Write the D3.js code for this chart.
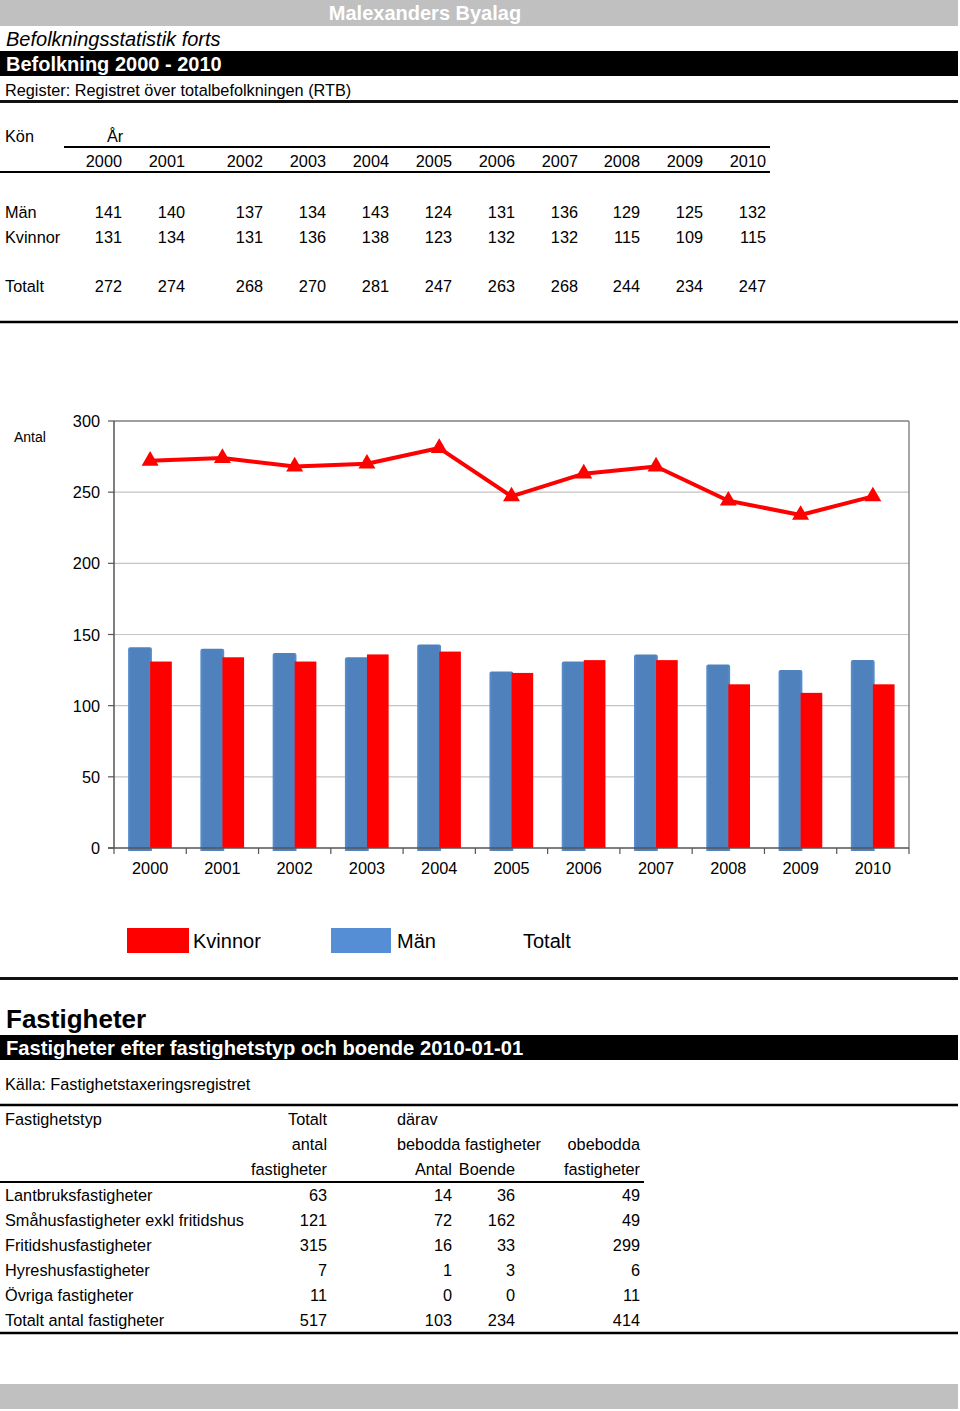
<!DOCTYPE html>
<html>
<head>
<meta charset="utf-8">
<script src="https://cdn.jsdelivr.net/npm/d3@7"></script>
<style>
  html, body { margin: 0; padding: 0; background: #fff; }
  svg text { font-family: "Liberation Sans", Arial, Helvetica, sans-serif; }
</style>
</head>
<body>
<svg id="page" width="960" height="1411"></svg>
<script>
// ---------- DATA ----------
const years = [2000, 2001, 2002, 2003, 2004, 2005, 2006, 2007, 2008, 2009, 2010];
const man = [141, 140, 137, 134, 143, 124, 131, 136, 129, 125, 132];
const kvinnor = [131, 134, 131, 136, 138, 123, 132, 132, 115, 109, 115];
const totalt = [272, 274, 268, 270, 281, 247, 263, 268, 244, 234, 247];
const yTicks = [0, 50, 100, 150, 200, 250, 300];
const legendLabels = ["Kvinnor", "Män", "Totalt"];

const fastTypes = ["Lantbruksfastigheter", "Småhusfastigheter exkl fritidshus", "Fritidshusfastigheter",
                   "Hyreshusfastigheter", "Övriga fastigheter", "Totalt antal fastigheter"];
const fastTotal = [63, 121, 315, 7, 11, 517];
const fastBeboddaAntal = [14, 72, 16, 1, 0, 103];
const fastBoende = [36, 162, 33, 3, 0, 234];
const fastObebodda = [49, 49, 299, 6, 11, 414];

// ---------- LAYOUT ----------
const svg = d3.select("#page");
const W = 958;
const FS = 16.3;

function txt(x, y, s, opts = {}) {
  const t = svg.append("text").attr("x", x).attr("y", y).text(s)
    .attr("font-size", opts.size || FS)
    .attr("fill", opts.fill || "#000");
  if (opts.weight) t.attr("font-weight", opts.weight);
  if (opts.style) t.attr("font-style", opts.style);
  if (opts.anchor) t.attr("text-anchor", opts.anchor);
  return t;
}
function hline(x1, x2, y, w, c) {
  svg.append("line").attr("x1", x1).attr("x2", x2).attr("y1", y).attr("y2", y)
    .attr("stroke", c || "#000").attr("stroke-width", w || 2);
}

// Header
svg.append("rect").attr("x", 0).attr("y", 0).attr("width", W).attr("height", 26).attr("fill", "#c0c0c0");
txt(425, 20, "Malexanders Byalag", {size: 20, weight: "bold", fill: "#fff", anchor: "middle"});
txt(6, 46, "Befolkningsstatistik forts", {size: 20, style: "italic"});
svg.append("rect").attr("x", 0).attr("y", 51).attr("width", W).attr("height", 25).attr("fill", "#000");
txt(6, 71, "Befolkning 2000 - 2010", {size: 20, weight: "bold", fill: "#fff"});
txt(5, 96, "Register: Registret över totalbefolkningen (RTB)", {size: FS});
hline(0, W, 101.5, 3, "#111");

// Table 1
const colRight = [122, 185, 263, 326, 389, 452, 515, 578, 640, 703, 766];
txt(5, 142, "Kön");
txt(107, 142, "År");
hline(64, 770, 147, 2);
years.forEach((y, i) => txt(colRight[i], 167, y, {anchor: "end"}));
hline(0, 770, 172, 2);
txt(5, 218, "Män");
txt(5, 243, "Kvinnor");
txt(5, 292, "Totalt");
man.forEach((v, i) => txt(colRight[i], 218, v, {anchor: "end"}));
kvinnor.forEach((v, i) => txt(colRight[i], 243, v, {anchor: "end"}));
totalt.forEach((v, i) => txt(colRight[i], 292, v, {anchor: "end"}));
hline(0, W, 322, 2.5);

// ---------- CHART ----------
const pl = 114, pr = 909, pt = 421, pb = 848;
const x = d3.scaleBand().domain(years).range([pl, pr]).padding(0);
const y = d3.scaleLinear().domain([0, 300]).range([pb, pt]);
const bw = x.bandwidth();
const g = svg.append("g");

// gridlines
g.selectAll("line.grid").data(yTicks.filter(d => d > 0)).join("line")
  .attr("x1", pl).attr("x2", pr).attr("y1", d => y(d)).attr("y2", d => y(d))
  .attr("stroke", "#c4c4c4").attr("stroke-width", 1.2);
// border
g.append("line").attr("x1", pr).attr("x2", pr).attr("y1", pt).attr("y2", pb)
  .attr("stroke", "#888").attr("stroke-width", 1.5);
g.append("line").attr("x1", pl).attr("x2", pr).attr("y1", pt).attr("y2", pt)
  .attr("stroke", "#888").attr("stroke-width", 1.5);

// gradient for blue bars
const defs = svg.append("defs");
const grad = defs.append("linearGradient").attr("id", "blueGrad").attr("x1", "0").attr("x2", "1").attr("y1", "0").attr("y2", "0");
grad.append("stop").attr("offset", "0%").attr("stop-color", "#5a8fd0");
grad.append("stop").attr("offset", "12%").attr("stop-color", "#4f81bd");
grad.append("stop").attr("offset", "88%").attr("stop-color", "#4f81bd");
grad.append("stop").attr("offset", "100%").attr("stop-color", "#5a8fd0");

// Män bars
g.selectAll("path.man").data(years).join("path")
  .attr("class", "man")
  .attr("d", (d, i) => {
    const x0 = x(d) + bw / 2 - 0.305 * bw, w = 0.33 * bw, y0 = y(man[i]), y1 = pb + 3, r = 2;
    return `M${x0},${y1} L${x0},${y0 + r} Q${x0},${y0} ${x0 + r},${y0} L${x0 + w - r},${y0} Q${x0 + w},${y0} ${x0 + w},${y0 + r} L${x0 + w},${y1} Z`;
  })
  .attr("fill", "url(#blueGrad)");

// Kvinnor bars
g.selectAll("rect.kv").data(years).join("rect")
  .attr("class", "kv")
  .attr("x", d => x(d) + bw / 2)
  .attr("width", 0.30 * bw)
  .attr("y", (d, i) => y(kvinnor[i]))
  .attr("height", (d, i) => pb - y(kvinnor[i]))
  .attr("fill", "#ff0000");

// axes
g.append("line").attr("x1", pl).attr("x2", pl).attr("y1", pt).attr("y2", pb)
  .attr("stroke", "#555").attr("stroke-width", 1.5);
g.append("line").attr("x1", pl - 6).attr("x2", pr).attr("y1", pb).attr("y2", pb)
  .attr("stroke", "#555").attr("stroke-width", 1.5);
g.selectAll("line.ytick").data(yTicks).join("line")
  .attr("x1", pl - 6).attr("x2", pl).attr("y1", d => y(d)).attr("y2", d => y(d))
  .attr("stroke", "#555").attr("stroke-width", 1.2);
g.selectAll("text.ylab").data(yTicks).join("text")
  .attr("x", 100).attr("y", d => y(d) + 6).attr("text-anchor", "end")
  .attr("font-size", FS).text(d => d);
const boundaries = years.map(d => x(d)).concat([pr]);
g.selectAll("line.xtick").data(boundaries).join("line")
  .attr("x1", d => d).attr("x2", d => d).attr("y1", pb).attr("y2", pb + 6)
  .attr("stroke", "#555").attr("stroke-width", 1.2);
g.selectAll("text.xlab").data(years).join("text")
  .attr("x", d => x(d) + bw / 2).attr("y", 874).attr("text-anchor", "middle")
  .attr("font-size", FS).text(d => d);
txt(14, 442, "Antal", {size: 14});

// Totalt line
const line = d3.line().x((d, i) => x(years[i]) + bw / 2).y(d => y(d));
g.append("path").datum(totalt).attr("d", line)
  .attr("fill", "none").attr("stroke", "#ff0000").attr("stroke-width", 4).attr("stroke-linejoin", "round");
g.selectAll("path.tri").data(totalt).join("path")
  .attr("transform", (d, i) => `translate(${x(years[i]) + bw / 2},${y(d)})`)
  .attr("d", d3.symbol(d3.symbolTriangle, 125))
  .attr("fill", "#ff0000");

// Legend
svg.append("rect").attr("x", 127).attr("y", 928).attr("width", 62).attr("height", 25).attr("fill", "#ff0000");
txt(193, 948, legendLabels[0], {size: 20});
svg.append("rect").attr("x", 331).attr("y", 928).attr("width", 60).attr("height", 25).attr("fill", "#558ed5");
txt(397, 948, legendLabels[1], {size: 20});
txt(523, 948, legendLabels[2], {size: 20});
hline(0, W, 978.5, 3, "#111");

// ---------- FASTIGHETER ----------
txt(6, 1028, "Fastigheter", {size: 26, weight: "bold"});
svg.append("rect").attr("x", 0).attr("y", 1035).attr("width", W).attr("height", 25).attr("fill", "#000");
txt(6, 1055, "Fastigheter efter fastighetstyp och boende 2010-01-01", {size: 20.2, weight: "bold", fill: "#fff"});
txt(5, 1090, "Källa: Fastighetstaxeringsregistret");
hline(0, W, 1105, 2.5);

const fc = [327, 452, 515, 640];
txt(5, 1125, "Fastighetstyp");
txt(fc[0], 1125, "Totalt", {anchor: "end"});
txt(397, 1125, "därav");
txt(fc[0], 1150, "antal", {anchor: "end"});
txt(397, 1150, "bebodda fastigheter");
txt(fc[3], 1150, "obebodda", {anchor: "end"});
txt(fc[0], 1175, "fastigheter", {anchor: "end"});
txt(fc[1], 1175, "Antal", {anchor: "end"});
txt(fc[2], 1175, "Boende", {anchor: "end"});
txt(fc[3], 1175, "fastigheter", {anchor: "end"});
hline(0, 644, 1182, 2);

fastTypes.forEach((t, i) => {
  const yy = 1201 + i * 25;
  txt(5, yy, t);
  txt(fc[0], yy, fastTotal[i], {anchor: "end"});
  txt(fc[1], yy, fastBeboddaAntal[i], {anchor: "end"});
  txt(fc[2], yy, fastBoende[i], {anchor: "end"});
  txt(fc[3], yy, fastObebodda[i], {anchor: "end"});
});
hline(0, W, 1333, 2.5);

svg.append("rect").attr("x", 0).attr("y", 1384).attr("width", W).attr("height", 25).attr("fill", "#c0c0c0");
</script>
</body>
</html>
